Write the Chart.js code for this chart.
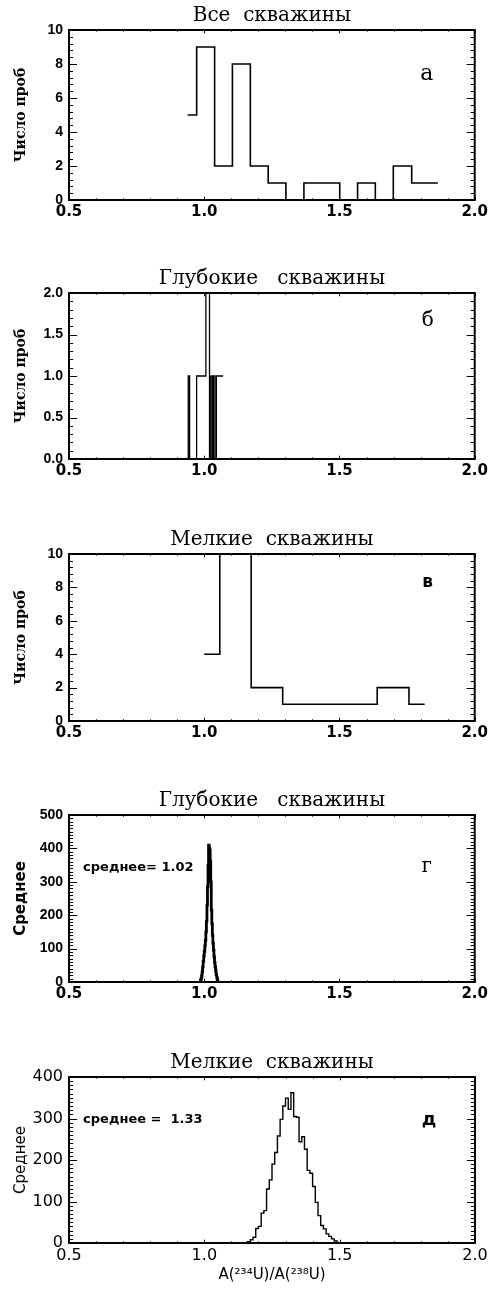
<!DOCTYPE html>
<html>
<head>
<meta charset="utf-8">
<script src="https://cdn.jsdelivr.net/npm/chart.js@4.4.1/dist/chart.umd.min.js"></script>
<style>
    body { margin: 0; background: #fff; width: 491px; height: 1293px; position: relative; overflow: hidden; }
    .panel { position: absolute; left: 0; width: 491px; }
</style>
</head>
<body>
<div class="panel" style="top:0px;height:225px"><canvas id="c1"></canvas></div>
<div class="panel" style="top:263px;height:221px"><canvas id="c2"></canvas></div>
<div class="panel" style="top:524px;height:222px"><canvas id="c3"></canvas></div>
<div class="panel" style="top:785px;height:222px"><canvas id="c4"></canvas></div>
<div class="panel" style="top:1047px;height:246px"><canvas id="c5"></canvas></div>
<script>
// а - все скважины (bin centres / counts)
const allX = [0.9385, 1.0055, 1.0713, 1.137, 1.204, 1.269, 1.335, 1.402, 1.468, 1.534, 1.600, 1.665, 1.733, 1.801, 1.864];
const allN = [5, 9, 2, 8, 2, 1, 0, 1, 1, 0, 1, 0, 2, 1, 1];

// б - глубокие скважины (step edges / counts)
const deepEdges = [0.93, 0.9408, 0.9459, 0.9718, 1.0061, 1.0195, 1.0246, 1.0301, 1.0338, 1.0394, 1.0449, 1.0700];
const deepN     = [0,    1,      0,      1,      2,      0,      1,      0,      1,      0,      1,      1];

// в - мелкие скважины
const shallowX = [1.000, 1.115, 1.232, 1.348, 1.464, 1.580, 1.699, 1.815];
const shallowN = [4, 13, 2, 1, 1, 1, 2, 1];

// г - распределение среднего, глубокие
const deepMeanX = [0.985, 0.987, 0.989, 0.991, 0.993, 0.995, 0.997, 0.999, 1.001, 1.003,
                   1.005, 1.007, 1.009, 1.011, 1.013, 1.015, 1.017, 1.019, 1.021, 1.023,
                   1.025, 1.027, 1.029, 1.031, 1.033, 1.035, 1.037, 1.039, 1.041, 1.043,
                   1.045, 1.047, 1.049, 1.051];
const deepMeanN = [2, 5, 10, 18, 30, 45, 62, 78, 92, 108,
                   125, 150, 182, 230, 285, 350, 410, 402, 395, 360,
                   300, 215, 175, 140, 115, 95, 75, 58, 45, 33,
                   22, 14, 7, 2];

// д - распределение среднего, мелкие
const shallowMeanX = [1.155, 1.165, 1.175, 1.185, 1.195, 1.205, 1.215, 1.225, 1.235, 1.245,
                      1.255, 1.265, 1.275, 1.285, 1.295, 1.305, 1.315, 1.325, 1.335, 1.345,
                      1.355, 1.365, 1.375, 1.385, 1.395, 1.405, 1.415, 1.425, 1.435, 1.445,
                      1.455, 1.465, 1.475, 1.485, 1.495];
const shallowMeanN = [2, 3, 8, 14, 35, 40, 72, 78, 130, 152,
                      190, 218, 258, 298, 330, 349, 322, 362, 305, 303,
                      244, 256, 226, 175, 168, 136, 98, 66, 42, 34,
                      22, 16, 10, 5, 2];

const toPoints = (xs, ys) => xs.map((x, i) => ({ x: x, y: ys[i] }));

// IDL-like box with inward ticks on all four sides, plus panel texts
const frame = {
    id: "frame",
    afterDraw(chart, args, o) {
        const { ctx, chartArea: a, scales: { x, y } } = chart;
        ctx.save();
        ctx.strokeStyle = "#000";
        ctx.lineWidth = 2;
        ctx.strokeRect(a.left, a.top, a.right - a.left, a.bottom - a.top);

        ctx.lineWidth = 1;
        const xl = 0.02 * (a.bottom - a.top);
        const yl = 0.02 * (a.right - a.left);
        ctx.beginPath();
        for (let i = 0; i <= 15; i++) {
            const px = Math.round(x.getPixelForValue(0.5 + i * 0.1)) + 0.5;
            const len = i % 5 === 0 ? xl : xl / 2;
            ctx.moveTo(px, a.bottom); ctx.lineTo(px, a.bottom - len);
            ctx.moveTo(px, a.top); ctx.lineTo(px, a.top + len);
        }
        const n = Math.round((y.max - y.min) / o.yMinor);
        for (let i = 0; i <= n; i++) {
            const py = Math.round(y.getPixelForValue(y.min + i * o.yMinor)) + 0.5;
            const len = i % o.yPer === 0 ? yl : yl / 2;
            ctx.moveTo(a.left, py); ctx.lineTo(a.left + len, py);
            ctx.moveTo(a.right, py); ctx.lineTo(a.right - len, py);
        }
        ctx.stroke();

        ctx.fillStyle = "#000";
        ctx.textBaseline = "middle";
        (o.texts || []).forEach(t => {
            ctx.font = t.font;
            ctx.textAlign = t.align || "center";
            ctx.fillText(t.text, x.getPixelForValue(t.x), y.getPixelForValue(t.y));
        });
        ctx.restore();
    }
};

function makeChart(id, cfg) {
    return new Chart(document.getElementById(id), {
        type: "line",
        data: {
            datasets: [{
                data: cfg.points,
                stepped: cfg.stepped,
                borderColor: "#000",
                borderWidth: cfg.lw,
                pointRadius: 0,
                fill: false
            }]
        },
        options: {
            responsive: true,
            maintainAspectRatio: false,
            animation: false,
            layout: { padding: { left: 0, right: 16, top: 0, bottom: 0 } },
            plugins: {
                legend: { display: false },
                tooltip: { enabled: false },
                title: {
                    display: true,
                    fullSize: false,
                    text: cfg.title,
                    color: "#000",
                    font: { family: "DejaVu Serif", size: 20, weight: "normal" },
                    padding: { top: 3.5, bottom: 2.5 }
                },
                frame: { yMinor: cfg.yMinor, yPer: cfg.yPer, texts: cfg.texts }
            },
            scales: {
                x: {
                    type: "linear",
                    min: 0.5,
                    max: 2.0,
                    grid: { display: false, drawTicks: false },
                    border: { display: false },
                    ticks: {
                        stepSize: 0.5,
                        padding: 3,
                        color: "#000",
                        maxRotation: 0,
                        font: cfg.xFont,
                        callback: v => v.toFixed(1)
                    },
                    title: cfg.xTitle ? {
                        display: true,
                        text: cfg.xTitle,
                        color: "#000",
                        font: { family: "DejaVu Sans", size: 15 },
                        padding: { top: 0, bottom: 8.7 }
                    } : { display: false },
                    afterFit: s => { s.height = cfg.xh; }
                },
                y: {
                    min: 0,
                    max: cfg.ymax,
                    grid: { display: false, drawTicks: false },
                    border: { display: false },
                    ticks: {
                        stepSize: cfg.ystep,
                        padding: 6,
                        color: "#000",
                        font: cfg.yFont,
                        callback: cfg.yFmt
                    },
                    title: {
                        display: true,
                        text: cfg.yTitle,
                        color: "#000",
                        font: cfg.yTitleFont,
                        padding: { top: 12.5, bottom: 0 }
                    },
                    afterFit: s => { s.width = 69; }
                }
            }
        },
        plugins: [frame]
    });
}

const tickX = { family: "DejaVu Sans", size: 15, weight: "bold" };
const tickY = { family: "Liberation Sans", size: 14, weight: "bold" };
const probTitle = { family: "DejaVu Serif", size: 14, weight: "bold" };
const intFmt = v => v.toFixed(0);

makeChart("c1", {
    title: "Все  скважины", points: toPoints(allX, allN), stepped: "middle", lw: 1.6,
    ymax: 10, ystep: 2, yMinor: 0.4, yPer: 5, yFmt: intFmt, xh: 25,
    xFont: tickX, yFont: tickY, yTitle: "Число проб", yTitleFont: probTitle,
    texts: [{ text: "а", x: 1.823, y: 7.4, font: "22px 'DejaVu Serif'" }]
});

makeChart("c2", {
    title: "Глубокие   скважины", points: toPoints(deepEdges, deepN), stepped: "before", lw: 1.3,
    ymax: 2, ystep: 0.5, yMinor: 0.1, yPer: 5, yFmt: v => v.toFixed(1), xh: 25,
    xFont: tickX, yFont: tickY, yTitle: "Число проб", yTitleFont: probTitle,
    texts: [{ text: "б", x: 1.826, y: 1.67, font: "20px 'DejaVu Serif'" }]
});

makeChart("c3", {
    title: "Мелкие  скважины", points: toPoints(shallowX, shallowN), stepped: "middle", lw: 1.6,
    ymax: 10, ystep: 2, yMinor: 0.4, yPer: 5, yFmt: intFmt, xh: 25,
    xFont: tickX, yFont: tickY, yTitle: "Число проб", yTitleFont: probTitle,
    texts: [{ text: "в", x: 1.826, y: 8.26, font: "bold 17px 'DejaVu Sans'" }]
});

makeChart("c4", {
    title: "Глубокие   скважины", points: toPoints(deepMeanX, deepMeanN), stepped: "middle", lw: 2.8,
    ymax: 500, ystep: 100, yMinor: 10, yPer: 10, yFmt: intFmt, xh: 25,
    xFont: tickX, yFont: { family: "Liberation Sans", size: 14, weight: "bold" },
    yTitle: "Среднее", yTitleFont: { family: "DejaVu Sans", size: 15, weight: "bold" },
    texts: [
        { text: "среднее= 1.02", x: 0.552, y: 341, align: "left", font: "bold 13px 'DejaVu Sans'" },
        { text: "г", x: 1.823, y: 344, font: "20px 'DejaVu Serif'" }
    ]
});

makeChart("c5", {
    title: "Мелкие  скважины", points: toPoints(shallowMeanX, shallowMeanN), stepped: "middle", lw: 1.4,
    ymax: 400, ystep: 100, yMinor: 10, yPer: 10, yFmt: intFmt, xh: 50,
    xFont: { family: "DejaVu Sans", size: 16 }, yFont: { family: "DejaVu Sans", size: 16 },
    yTitle: "Среднее", yTitleFont: { family: "DejaVu Sans", size: 15 },
    xTitle: "A(²³⁴U)/A(²³⁸U)",
    texts: [
        { text: "среднее =  1.33", x: 0.552, y: 298, align: "left", font: "bold 13px 'DejaVu Sans'" },
        { text: "д", x: 1.83, y: 296, font: "bold 18px 'DejaVu Sans'" }
    ]
});
</script>
</body>
</html>
